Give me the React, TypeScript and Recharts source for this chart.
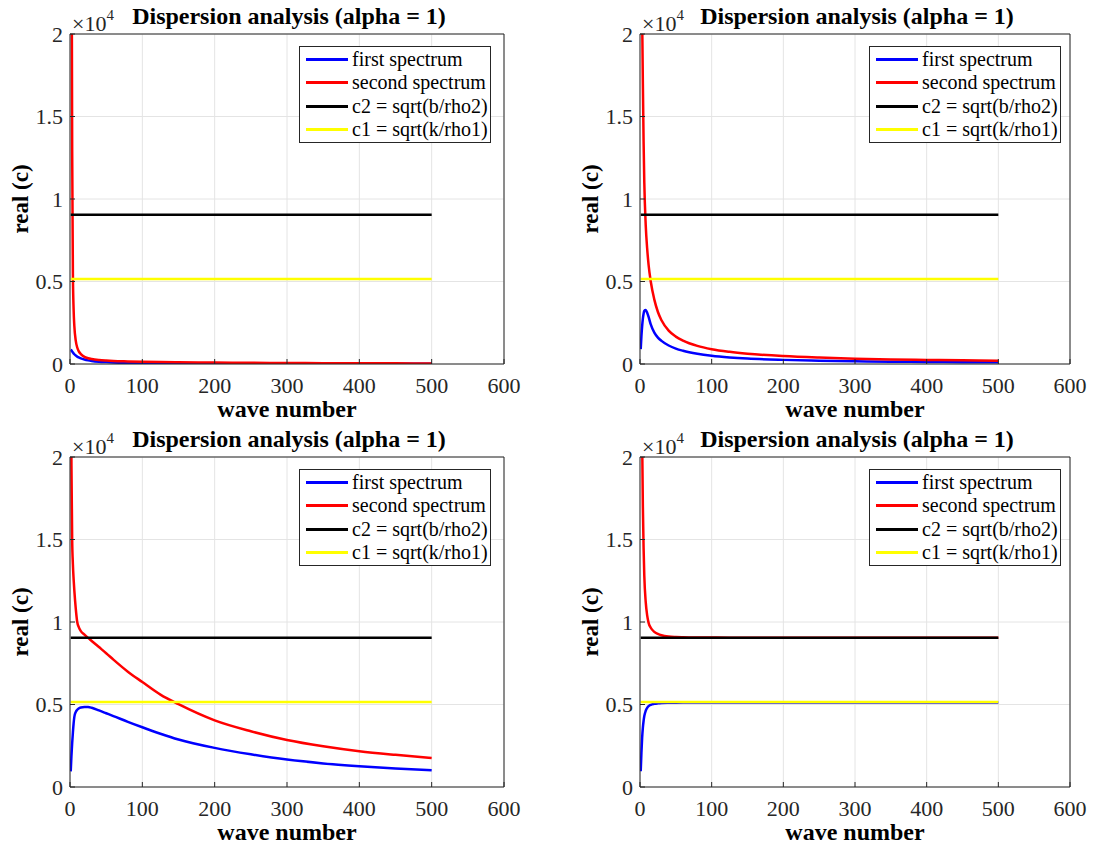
import React from 'react';
import { LineChart, Line, XAxis, YAxis, CartesianGrid, Legend } from 'recharts';

// shared wave numbers (x) for every panel
const waveNumbers = [1, 2, 3, 4, 5, 6, 8, 10, 12, 15, 20, 25, 30, 40, 50, 60, 80, 100, 125, 150, 200, 250, 300, 350, 400, 450, 500];

const c2Speed = 9050;
const c1Speed = 5150;

const seriesNames = ['first spectrum', 'second spectrum', 'c2 = sqrt(b/rho2)', 'c1 = sqrt(k/rho1)'];
const seriesColors = ['#0000ff', '#ff0000', '#000000', '#ffff00'];

// top left
const firstTopLeft = [850, 820, 760, 700, 640, 590, 510, 450, 400, 340, 270, 220, 185, 140, 115, 95, 72, 58, 47, 39, 30, 24, 20, 17, 15, 13, 12];
const secondTopLeft = [60000, 30000, 13000, 5500, 3300, 2300, 1400, 1000, 780, 600, 430, 350, 300, 240, 205, 180, 155, 135, 115, 100, 85, 70, 60, 52, 45, 40, 35];

// top right
const firstTopRight = [900, 1700, 2300, 2750, 3050, 3220, 3270, 3100, 2850, 2400, 1900, 1600, 1400, 1120, 930, 800, 620, 500, 400, 330, 250, 200, 165, 140, 125, 110, 100];
const secondTopRight = [35000, 26000, 21000, 17000, 13500, 11000, 8400, 7000, 6000, 5000, 3900, 3150, 2650, 2020, 1660, 1420, 1100, 900, 740, 625, 480, 390, 325, 280, 245, 220, 200];

// bottom left
const firstBottomLeft = [950, 1900, 2650, 3300, 3850, 4250, 4550, 4680, 4760, 4820, 4850, 4845, 4800, 4640, 4470, 4300, 3950, 3620, 3230, 2880, 2370, 1980, 1660, 1430, 1260, 1120, 1010];
const secondBottomLeft = [30000, 19500, 15000, 13500, 12600, 11900, 10800, 10000, 9700, 9450, 9230, 9035, 8850, 8480, 8110, 7720, 6990, 6364, 5600, 5020, 4040, 3380, 2850, 2470, 2170, 1950, 1760];

// bottom right
const firstBottomRight = [950, 2100, 3000, 3600, 4000, 4300, 4620, 4800, 4900, 4980, 5040, 5070, 5090, 5105, 5112, 5116, 5120, 5120, 5120, 5120, 5120, 5120, 5120, 5120, 5120, 5120, 5120];
const secondBottomRight = [35000, 26000, 21000, 17000, 14500, 12800, 11200, 10400, 9950, 9650, 9400, 9280, 9200, 9120, 9090, 9075, 9060, 9055, 9050, 9050, 9050, 9050, 9050, 9050, 9050, 9050, 9050];

const xTicks = [0, 100, 200, 300, 400, 500, 600];
const yTicks = [0, 5000, 10000, 15000, 20000];

const AXIS_W = 70;
const CHART_H = 424;
const FONT = '"Liberation Serif", "Times New Roman", serif';
const AX = '#262626';

const renderLegend = () => (
    <div style={{ border: `1px solid ${AX}`, background: '#fff', width: 190, height: 94, paddingTop: 1, boxSizing: 'content-box', fontFamily: FONT }}>
        {seriesNames.map((name, i) => (
            <div key={name} style={{ display: 'flex', alignItems: 'center', height: 23.3 }}>
                <div style={{ marginLeft: 6, width: 42, height: 3, background: seriesColors[i] }} />
                <span style={{ marginLeft: 4, fontSize: 20, lineHeight: '23px', color: '#000', whiteSpace: 'nowrap' }}>{name}</span>
            </div>
        ))}
    </div>
);

type PanelProps = {
    first: number[],
    second: number[],
    left: number,
    top: number,
    width: number,
    plotWidth: number
}

function Panel({ first, second, left, top, width, plotWidth }: PanelProps) {
    const rows = waveNumbers.map((k, i) => ({ k, first: first[i], second: second[i], c2: c2Speed, c1: c1Speed }));
    const rightMargin = width - AXIS_W - plotWidth - 1;
    const cx = AXIS_W + plotWidth / 2 + 2;
    const tickStyle = { fontSize: 22, fill: AX, fontFamily: FONT };

    return (
        <div style={{ position: 'absolute', left, top }}>
            <LineChart width={width} height={CHART_H} data={rows} margin={{ top: 33, right: rightMargin, bottom: 0, left: 0 }}>
                <CartesianGrid stroke="#e4e4e4" />
                <XAxis dataKey="k" type="number" domain={[0, 600]} ticks={xTicks} allowDataOverflow
                    height={60} tick={tickStyle} tickSize={-5} tickMargin={18}
                    stroke={AX} tickLine={{ stroke: AX }}
                    label={{ value: 'wave number', position: 'insideBottom', offset: 7, style: { fontSize: 24, fontWeight: 'bold', fill: '#000', fontFamily: FONT } }} />
                <XAxis xAxisId="top" orientation="top" dataKey="k" type="number" domain={[0, 600]} ticks={xTicks}
                    allowDataOverflow height={1} tick={false} tickSize={-5} stroke={AX} tickLine={{ stroke: AX }} />
                <YAxis type="number" domain={[0, 20000]} ticks={yTicks} allowDataOverflow width={AXIS_W}
                    tick={tickStyle} tickSize={-5} tickMargin={12} stroke={AX} tickLine={{ stroke: AX }}
                    tickFormatter={(v: number) => String(v / 10000)}
                    label={{ value: 'real (c)', angle: -90, position: 'insideLeft', offset: 20, style: { textAnchor: 'middle', fontSize: 23, fontWeight: 'bold', fill: '#000', fontFamily: FONT } }} />
                <YAxis yAxisId="right" orientation="right" type="number" domain={[0, 20000]} ticks={yTicks}
                    allowDataOverflow width={1} tick={false} tickSize={-5} stroke={AX} tickLine={{ stroke: AX }} />
                <Legend layout="vertical" align="center" verticalAlign="middle" content={renderLegend}
                    wrapperStyle={{ left: 299, top: 46, width: 192, height: 96 }} />
                <Line type="monotone" dataKey="first" name={seriesNames[0]} stroke={seriesColors[0]} strokeWidth={2.5} dot={false} isAnimationActive={false} />
                <Line type="monotone" dataKey="second" name={seriesNames[1]} stroke={seriesColors[1]} strokeWidth={2.5} dot={false} isAnimationActive={false} />
                <Line type="linear" dataKey="c2" name={seriesNames[2]} stroke={seriesColors[2]} strokeWidth={2.5} dot={false} isAnimationActive={false} />
                <Line type="linear" dataKey="c1" name={seriesNames[3]} stroke={seriesColors[3]} strokeWidth={2.5} dot={false} isAnimationActive={false} />
                <text x={cx} y={24} textAnchor="middle" style={{ fontSize: 24, fontWeight: 'bold', fontFamily: FONT, fill: '#000' }}>
                    Dispersion analysis (alpha = 1)
                </text>
                <text x={AXIS_W + 2} y={31} style={{ fontSize: 22, fontFamily: FONT, fill: AX }}>
                    ×10<tspan dy={-11} style={{ fontSize: 15 }}>4</tspan>
                </text>
            </LineChart>
        </div>
    );
}

export default function App() {
    return (
        <div style={{ position: 'absolute', left: 0, top: 0, width: 1098, height: 849, background: '#fff', fontFamily: FONT }}>
            <Panel first={firstTopLeft} second={secondTopLeft} left={0} top={0} width={549} plotWidth={434} />
            <Panel first={firstTopRight} second={secondTopRight} left={570} top={0} width={528} plotWidth={430} />
            <Panel first={firstBottomLeft} second={secondBottomLeft} left={0} top={423} width={549} plotWidth={434} />
            <Panel first={firstBottomRight} second={secondBottomRight} left={570} top={423} width={528} plotWidth={430} />
        </div>
    );
}
